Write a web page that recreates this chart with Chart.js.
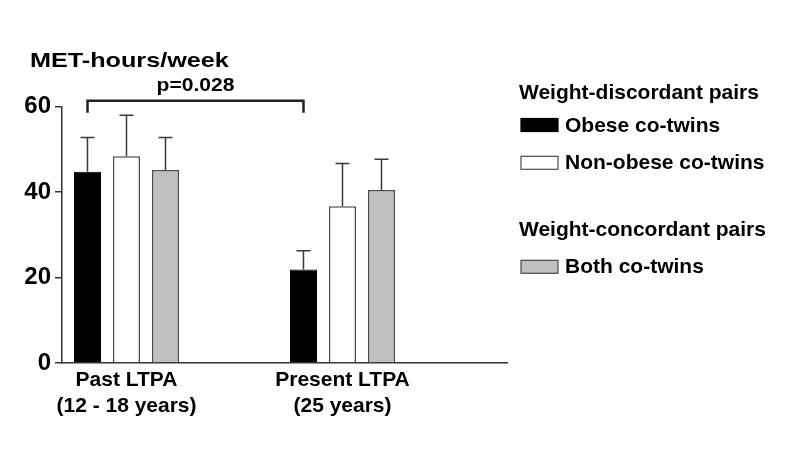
<!DOCTYPE html>
<html>
<head>
<meta charset="utf-8">
<script src="https://cdn.jsdelivr.net/npm/chart.js@4/dist/chart.umd.min.js"></script>
<style>
html,body{margin:0;padding:0;background:#fff;}
canvas{display:block;}
</style>
</head>
<body>
<canvas id="c" width="800" height="457"></canvas>
<script>
// ---- data ----
const categories = [['Past LTPA', '(12 - 18 years)'], ['Present LTPA', '(25 years)']];
const categoryIndex = [1, 2];
const obese = [44.8, 21.9];
const obeseErr = [8.0, 4.4];
const nonObese = [48.4, 36.7];
const nonObeseErr = [9.6, 10.0];
const both = [45.2, 40.5];
const bothErr = [7.6, 7.2];
const yTicks = [0, 20, 40, 60];
const yTitle = 'MET-hours/week';
const pLabel = 'p=0.028';
const seriesNames = ['Obese co-twins', 'Non-obese co-twins', 'Both co-twins'];
const groupNames = ['Weight-discordant pairs', 'Weight-concordant pairs'];

const FONT = '"Liberation Sans", Arial, Helvetica, sans-serif';
const errors = [obeseErr, nonObeseErr, bothErr];

function pts(vals) { return vals.map((v, i) => ({ x: categoryIndex[i], y: v })); }

function stretchedText(ctx, text, x, y, sx, align) {
  ctx.save();
  ctx.translate(x, y);
  ctx.scale(sx, 1);
  ctx.textAlign = align;
  ctx.fillText(text, 0, 0);
  ctx.restore();
}

const extras = {
  id: 'extras',
  afterDatasetsDraw(chart) {
    const ctx = chart.ctx;
    const ys = chart.scales.y;
    ctx.save();
    // error bars
    ctx.strokeStyle = '#3a3a3a';
    ctx.lineWidth = 1.5;
    chart.data.datasets.forEach((ds, di) => {
      const meta = chart.getDatasetMeta(di);
      meta.data.forEach((el, j) => {
        const v = ds.data[j].y;
        const top = ys.getPixelForValue(v + errors[di][j]);
        ctx.beginPath();
        ctx.moveTo(el.x, el.y);
        ctx.lineTo(el.x, top);
        ctx.moveTo(el.x - 7, top);
        ctx.lineTo(el.x + 7, top);
        ctx.stroke();
      });
    });
    // significance bracket
    const m0 = chart.getDatasetMeta(0);
    const x1 = m0.data[0].x, x2 = m0.data[1].x;
    const yb = chart.chartArea.top - 6;
    ctx.strokeStyle = '#222';
    ctx.lineWidth = 2.5;
    ctx.beginPath();
    ctx.moveTo(x1, yb + 12);
    ctx.lineTo(x1, yb);
    ctx.lineTo(x2, yb);
    ctx.lineTo(x2, yb + 12);
    ctx.stroke();
    ctx.fillStyle = '#000';
    ctx.textBaseline = 'alphabetic';
    ctx.font = 'bold 18px ' + FONT;
    stretchedText(ctx, pLabel, (x1 + x2) / 2, yb - 9.5, 1.17, 'center');
    // axis title
    ctx.font = 'bold 21px ' + FONT;
    stretchedText(ctx, yTitle, 30, 67, 1.2, 'left');
    // legend
    ctx.textAlign = 'left';
    ctx.font = 'bold 21px ' + FONT;
    const lx = 519, sx = 521, tx = 565;
    ctx.fillText(groupNames[0], lx, 99);
    ctx.fillText(groupNames[1], lx, 236);
    const items = [
      { y: 131.5, ds: chart.data.datasets[0] },
      { y: 169.3, ds: chart.data.datasets[1] },
      { y: 273.3, ds: chart.data.datasets[2] }
    ];
    items.forEach((it, k) => {
      ctx.fillStyle = it.ds.backgroundColor;
      ctx.fillRect(sx, it.y - 13, 37, 13);
      ctx.strokeStyle = it.ds.borderColor;
      ctx.lineWidth = 1.2;
      ctx.strokeRect(sx, it.y - 13, 37, 13);
      ctx.fillStyle = '#000';
      ctx.fillText(seriesNames[k], tx, it.y);
    });
    ctx.restore();
  }
};

new Chart(document.getElementById('c'), {
  type: 'bar',
  data: {
    datasets: [
      { label: seriesNames[0], data: pts(obese), backgroundColor: '#000000', borderColor: '#000000', borderWidth: 1 },
      { label: seriesNames[1], data: pts(nonObese), backgroundColor: '#ffffff', borderColor: '#4a4a4a', borderWidth: 1.5 },
      { label: seriesNames[2], data: pts(both), backgroundColor: '#c0c0c0', borderColor: '#4a4a4a', borderWidth: 1.5 }
    ]
  },
  options: {
    responsive: false,
    animation: false,
    devicePixelRatio: 1,
    categoryPercentage: 0.5417,
    barPercentage: 0.6923,
    layout: { padding: { left: 0, top: 106.7, right: 293, bottom: 0 } },
    plugins: { legend: { display: false }, tooltip: { enabled: false }, title: { display: false } },
    scales: {
      x: {
        type: 'linear',
        min: 0.7014,
        max: 2.7616,
        offset: false,
        grid: { display: false, drawTicks: false, offset: false },
        border: { display: true, color: '#333', width: 1.5 },
        afterBuildTicks: (s) => { s.ticks = categoryIndex.map(v => ({ value: v })); },
        afterFit: (s) => { s.height = 94; },
        ticks: {
          autoSkip: false, maxRotation: 0, minRotation: 0, padding: 5,
          color: '#000',
          font: { family: FONT, size: 21, weight: 'bold', lineHeight: 1.2 },
          callback: (v, i) => categories[i]
        }
      },
      y: {
        min: 0, max: 60,
        afterBuildTicks: (s) => { s.ticks = yTicks.map(v => ({ value: v })); },
        afterFit: (s) => { s.width = 62; },
        grid: { display: true, drawOnChartArea: false, drawTicks: true, tickLength: 7, color: '#333', lineWidth: 1.5 },
        border: { display: true, color: '#333', width: 1.5 },
        ticks: {
          padding: 4, color: '#000',
          font: { family: FONT, size: 24, weight: 'bold' }
        }
      }
    }
  },
  plugins: [extras]
});
</script>
</body>
</html>
